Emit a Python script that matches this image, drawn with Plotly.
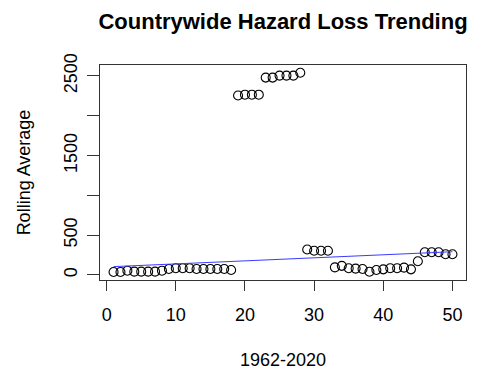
import plotly.graph_objects as go

# Rolling average of hazard losses, one value per window index
window = list(range(1, 51))
rolling_avg = [37, 37, 54, 42, 42, 42, 42, 54, 75, 84,
               84, 84, 75, 75, 75, 75, 75, 63, 2255, 2265,
               2265, 2265, 2480, 2480, 2505, 2505, 2505, 2540, 320, 305,
               305, 305, 96, 115, 84, 80, 75, 40, 63, 71,
               84, 84, 92, 71, 172, 285, 285, 285, 260, 260]

# Fitted trend line endpoints
trend_x = [1, 50]
trend_y = [105, 292]

x_ticks = [0, 10, 20, 30, 40, 50]
y_ticks = [0, 500, 1000, 1500, 2000, 2500]
y_tick_text = ["0", "500", "", "1500", "", "2500"]

FONT = "Liberation Sans, Arial, sans-serif"

fig = go.Figure()
fig.add_trace(go.Scatter(
    x=window, y=rolling_avg, mode="markers",
    marker=dict(symbol="circle-open", size=9, color="black",
                line=dict(width=1.1, color="black")),
    showlegend=False,
))
fig.add_trace(go.Scatter(
    x=trend_x, y=trend_y, mode="lines",
    line=dict(color="#3a3aff", width=1),
    showlegend=False,
))

fig.update_layout(
    width=481, height=371,
    margin=dict(l=100, r=15, t=65, b=91),
    paper_bgcolor="white", plot_bgcolor="white",
    font=dict(family=FONT, size=18, color="black"),
    title=dict(text="<b>Countrywide Hazard Loss Trending</b>",
               x=0.5, xref="paper", xanchor="center",
               y=1 - 21 / 371, yref="container", yanchor="middle",
               font=dict(family=FONT, size=22, color="black")),
    xaxis=dict(range=[-0.96, 51.96], tickvals=x_ticks, automargin=False,
               showgrid=False, zeroline=False,
               showline=True, mirror=True, linecolor="#333", linewidth=1,
               ticks="outside", ticklen=10, tickcolor="#333", tickwidth=1,
               tickfont=dict(size=18), ticklabelstandoff=8,
               title=dict(text="1962-2020", standoff=29, font=dict(size=18))),
    yaxis=dict(range=[-63, 2638], tickvals=y_ticks, ticktext=y_tick_text,
               tickangle=-90, automargin=False,
               showgrid=False, zeroline=False,
               showline=True, mirror=True, linecolor="#333", linewidth=1,
               ticks="outside", ticklen=12, tickcolor="#333", tickwidth=1,
               tickfont=dict(size=18), ticklabelstandoff=3,
               title=dict(text="Rolling Average", standoff=25, font=dict(size=18))),
)

fig.write_html("out.html")
